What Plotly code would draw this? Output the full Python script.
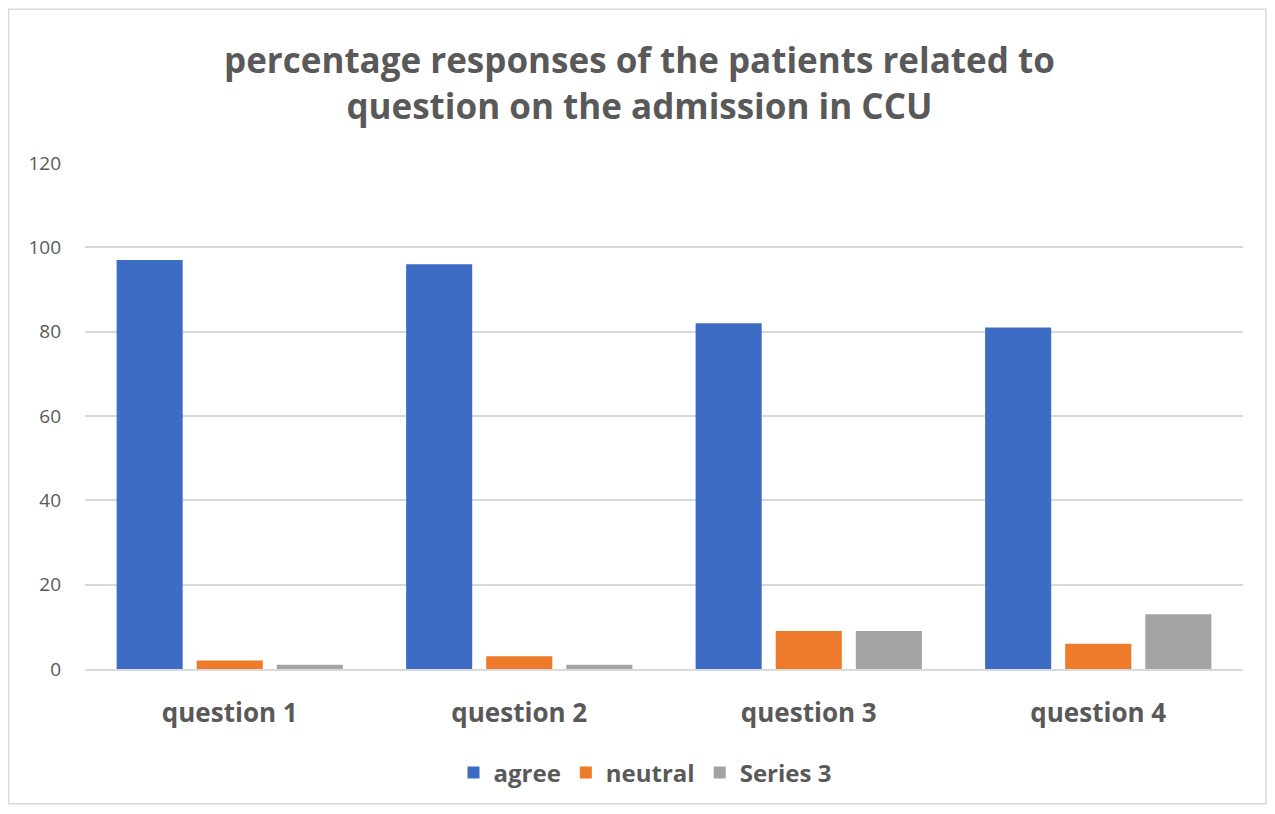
import plotly.graph_objects as go

categories = ["question 1", "question 2", "question 3", "question 4"]
agree = [97, 96, 82, 81]
neutral = [2, 3, 9, 6]
series3 = [1, 1, 9, 13]
y_ticks = [0, 20, 40, 60, 80, 100, 120]

FONT = "Open Sans, Lato, sans-serif"
TXT = "#595959"

fig = go.Figure()
fig.add_trace(go.Bar(name="agree", x=categories, y=agree,
                     marker=dict(color="#3d6cc5", line=dict(width=0))))
fig.add_trace(go.Bar(name="neutral", x=categories, y=neutral,
                     marker=dict(color="#ee7a2c", line=dict(width=0))))
fig.add_trace(go.Bar(name="Series 3", x=categories, y=series3,
                     marker=dict(color="#a3a3a3", line=dict(width=0))))

fig.update_layout(
    width=1259, height=798,
    paper_bgcolor="white", plot_bgcolor="white",
    margin=dict(l=77, r=24, t=155, b=136),
    barmode="group", bargap=0.17, bargroupgap=0.175,
    font=dict(family=FONT, color=TXT),
    showlegend=True,
    legend=dict(orientation="h", x=0.4836, xanchor="center", y=-0.203, yanchor="middle",
                font=dict(size=24, color=TXT, family=FONT, weight="bold"),
                traceorder="normal", itemwidth=30),
    annotations=[dict(text="<b>percentage responses of the patients related to<br>question on the admission in CCU</b>",
                      xref="paper", yref="paper", x=0.479, y=1.0, yshift=81,
                      xanchor="center", yanchor="middle", showarrow=False,
                      font=dict(size=35, color=TXT, family=FONT))],
    shapes=[dict(type="rect", xref="paper", yref="paper",
                 x0=-77/1158 + 0.0005, x1=1 + 23/1158, y0=-135/507, y1=1 + 154/507,
                 line=dict(color="#d9d9d9", width=1.5), fillcolor="rgba(0,0,0,0)")],
)
fig.update_xaxes(showgrid=False, showline=True, linecolor="#d9d9d9", linewidth=1.5,
                 ticks="", tickfont=dict(size=26, color=TXT, family=FONT),
                 tickprefix="<b>", ticksuffix="</b>", ticklabelstandoff=20)
fig.update_yaxes(range=[0, 120], tickvals=y_ticks, showgrid=True, gridcolor="#d9d9d9",
                 gridwidth=1.5, zeroline=False, showline=False, ticks="",
                 tickfont=dict(size=19, color=TXT, family=FONT), ticklabelstandoff=23)

fig.write_html("out.html")
